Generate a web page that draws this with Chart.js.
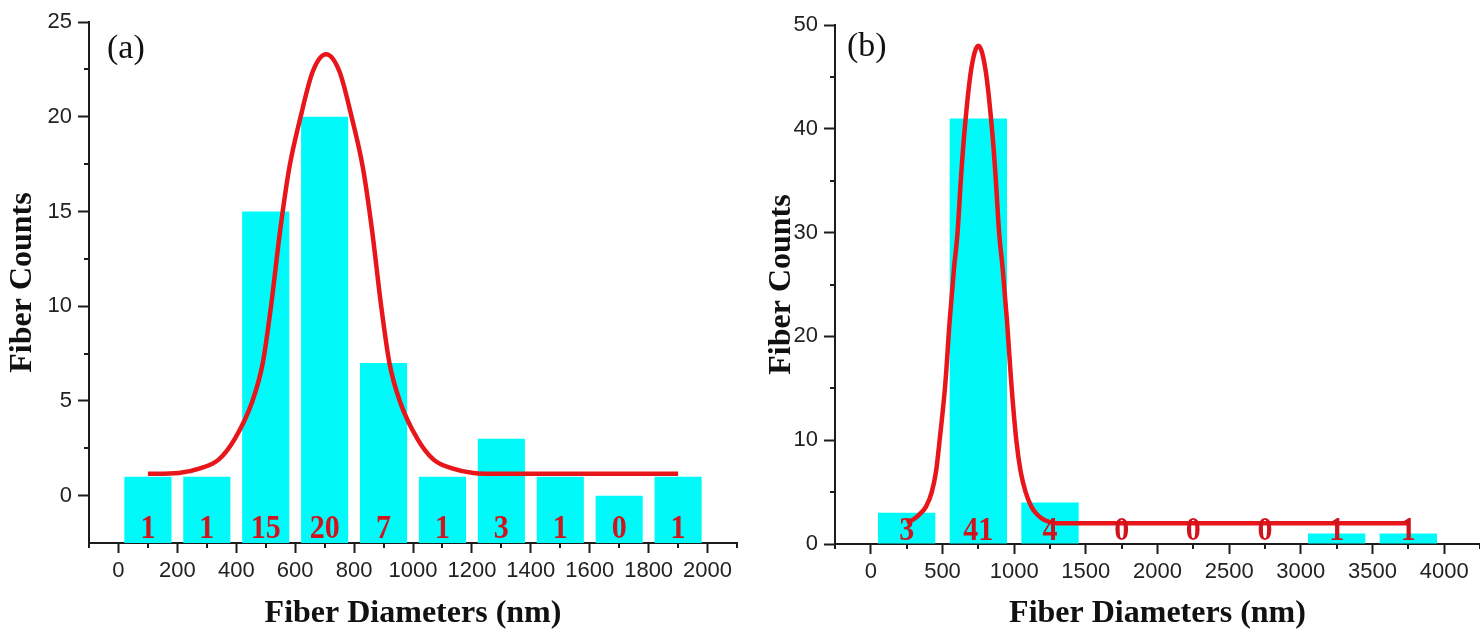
<!DOCTYPE html>
<html>
<head>
<meta charset="utf-8">
<title>Fiber diameter distributions</title>
<script src="https://cdn.jsdelivr.net/npm/chart.js@4.4.1/dist/chart.umd.min.js"></script>
<style>
  html, body { margin: 0; padding: 0; background: #fff; }
  body { width: 1480px; height: 633px; position: relative; overflow: hidden; }
  .panel { position: absolute; top: 0; height: 633px; }
  #panelA { left: 0; width: 760px; }
  #panelB { left: 760px; width: 720px; }
</style>
</head>
<body>
<div class="panel" id="panelA"><canvas id="chartA"></canvas></div>
<div class="panel" id="panelB"><canvas id="chartB"></canvas></div>
<script>
// ---- panel (a): 200 nm bins ----
const binsA = [100, 300, 500, 700, 900, 1100, 1300, 1500, 1700, 1900];
const countsA = [1, 1, 15, 20, 7, 1, 3, 1, 0, 1];
const fitAX = [100, 205, 280, 340, 395, 455, 490, 518, 549, 580, 617, 660, 705, 750, 793, 830, 861, 892, 920, 955, 1015, 1070, 1130, 1205, 1300, 1900];
const fitAY = [1.15, 1.2, 1.45, 1.9, 3.0, 5.0, 7.0, 10.0, 14.0, 17.3, 19.9, 22.4, 23.3, 22.4, 19.9, 17.3, 14.0, 10.0, 7.0, 5.0, 3.0, 1.9, 1.45, 1.2, 1.15, 1.15];
const xTicksA = [0, 200, 400, 600, 800, 1000, 1200, 1400, 1600, 1800, 2000];
const xMinorA = [-100, 100, 300, 500, 700, 900, 1100, 1300, 1500, 1700, 1900, 2100];
const yTicksA = [0, 5, 10, 15, 20, 25];
const yMinorA = [2.5, 7.5, 12.5, 17.5, 22.5];

// ---- panel (b): 500 nm bins ----
const binsB = [250, 750, 1250, 1750, 2250, 2750, 3250, 3750];
const countsB = [3, 41, 4, 0, 0, 0, 1, 1];
const fitBX = [250, 300, 350, 385, 425, 455, 480, 520, 550, 580, 605, 630, 655, 700, 750, 800, 845, 870, 895, 920, 950, 980, 1015, 1045, 1080, 1120, 1150, 1200, 1250, 1300, 3750];
const fitBY = [2.1, 2.4, 3.0, 3.6, 5.0, 7.0, 10.0, 15.5, 21.5, 26.5, 30.0, 35.5, 40.0, 45.7, 48.0, 45.7, 40.0, 35.5, 30.0, 26.5, 21.5, 15.5, 10.0, 7.0, 5.0, 3.6, 3.0, 2.4, 2.1, 2.0, 2.0];
const xTicksB = [0, 500, 1000, 1500, 2000, 2500, 3000, 3500, 4000];
const xMinorB = [-250, 250, 750, 1250, 1750, 2250, 2750, 3250, 3750, 4250];
const yTicksB = [0, 10, 20, 30, 40, 50];
const yMinorB = [5, 15, 25, 35, 45];

const AXIS = '#1c1c1c';
const BAR_CYAN = '#00fafa';
const FIT_RED = '#e8151a';
const LABEL_RED = '#d0141e';
const SERIF = '"Liberation Serif", "Times New Roman", serif';
const SANS = '"Liberation Sans", Arial, sans-serif';

Chart.defaults.animation = false;

// minor ticks, count labels under each bar and the panel letter
const histExtras = {
  id: 'histExtras',
  afterDatasetsDraw(chart, args, o) {
    const { ctx, chartArea: area, scales: { x, y } } = chart;
    ctx.save();
    ctx.strokeStyle = AXIS;
    ctx.lineWidth = 2;
    ctx.beginPath();
    o.xMinor.forEach(v => {
      const px = Math.round(x.getPixelForValue(v));
      ctx.moveTo(px, area.bottom);
      ctx.lineTo(px, area.bottom + 5);
    });
    o.yMinor.forEach(v => {
      const py = Math.round(y.getPixelForValue(v));
      ctx.moveTo(area.left, py);
      ctx.lineTo(area.left - 5, py);
    });
    ctx.stroke();

    ctx.fillStyle = LABEL_RED;
    ctx.font = 'bold 30px ' + SERIF;
    ctx.textAlign = 'center';
    ctx.textBaseline = 'alphabetic';
    o.bins.forEach((b, i) => {
      ctx.save();
      ctx.translate(x.getPixelForValue(b), y.getPixelForValue(o.labelY));
      ctx.scale(1, 1.15);
      ctx.fillText(String(o.counts[i]), 0, 0);
      ctx.restore();
    });

    ctx.fillStyle = '#111';
    ctx.font = '34px ' + SERIF;
    ctx.textAlign = 'left';
    ctx.textBaseline = 'middle';
    ctx.fillText(o.tag, area.left + o.tagDx, area.top + o.tagDy);
    ctx.restore();
  }
};

function axisTitle(text, pad) {
  return {
    display: true,
    text: text,
    color: '#111',
    font: { family: SERIF, size: 32, weight: 'bold' },
    padding: pad
  };
}

function makePanel(id, p) {
  return new Chart(document.getElementById(id), {
    type: 'bar',
    data: {
      datasets: [
        {
          type: 'line',
          data: p.fitX.map((v, i) => ({ x: v, y: p.fitY[i] })),
          borderColor: FIT_RED,
          borderWidth: 4.5,
          pointRadius: 0,
          cubicInterpolationMode: 'monotone',
          order: 0
        },
        {
          type: 'bar',
          data: p.bins.map((v, i) => ({ x: v, y: p.counts[i] })),
          backgroundColor: BAR_CYAN,
          borderWidth: 0,
          base: p.yMin,
          barPercentage: 0.8,
          categoryPercentage: 1,
          order: 1
        }
      ]
    },
    options: {
      responsive: true,
      maintainAspectRatio: false,
      layout: { padding: p.padding },
      plugins: {
        legend: { display: false },
        tooltip: { enabled: false },
        histExtras: {
          bins: p.bins, counts: p.counts, labelY: p.labelY,
          xMinor: p.xMinor, yMinor: p.yMinor,
          tag: p.tag, tagDx: p.tagDx, tagDy: p.tagDy
        }
      },
      scales: {
        x: {
          type: 'linear',
          min: p.xMin,
          max: p.xMax,
          offset: false,
          afterBuildTicks: s => { s.ticks = p.xTicks.map(v => ({ value: v })); },
          afterFit: s => { s.height = p.xHeight; },
          ticks: {
            autoSkip: false, maxRotation: 0, padding: 5, color: '#222',
            font: { family: SANS, size: 22 },
            callback: v => String(v)
          },
          grid: { offset: false, drawOnChartArea: false, tickLength: 10, tickColor: AXIS, tickWidth: 2 },
          border: { color: AXIS, width: 2 },
          title: axisTitle('Fiber Diameters (nm)', { top: 0, bottom: 0 })
        },
        y: {
          type: 'linear',
          min: p.yMin,
          max: p.yMax,
          afterBuildTicks: s => { s.ticks = p.yTicks.map(v => ({ value: v })); },
          afterFit: s => { s.width = p.yWidth; },
          ticks: {
            padding: 6, color: '#222',
            font: { family: SANS, size: 22 },
            callback: v => String(v)
          },
          grid: { drawOnChartArea: false, tickLength: 11, tickColor: AXIS, tickWidth: 2 },
          border: { color: AXIS, width: 2 },
          title: axisTitle('Fiber Counts', { top: p.yTitlePad, bottom: 0 })
        }
      }
    },
    plugins: [histExtras]
  });
}

makePanel('chartA', {
  bins: binsA, counts: countsA, fitX: fitAX, fitY: fitAY,
  xTicks: xTicksA, yTicks: yTicksA, xMinor: xMinorA, yMinor: yMinorA,
  xMin: -100, xMax: 2100, yMin: -2.5, yMax: 25,
  labelY: -2.23,
  padding: { top: 22, right: 23, bottom: 0, left: 0 },
  yWidth: 89, xHeight: 90, yTitlePad: 3.3,
  tag: '(a)', tagDx: 18, tagDy: 27
});

makePanel('chartB', {
  bins: binsB, counts: countsB, fitX: fitBX, fitY: fitBY,
  xTicks: xTicksB, yTicks: yTicksB, xMinor: xMinorB, yMinor: yMinorB,
  xMin: -250, xMax: 4250, yMin: 0, yMax: 50,
  labelY: 0.4,
  padding: { top: 25, right: 0, bottom: 0, left: 0 },
  yWidth: 75, xHeight: 89, yTitlePad: 2.3,
  tag: '(b)', tagDx: 12, tagDy: 22
});
</script>
</body>
</html>
